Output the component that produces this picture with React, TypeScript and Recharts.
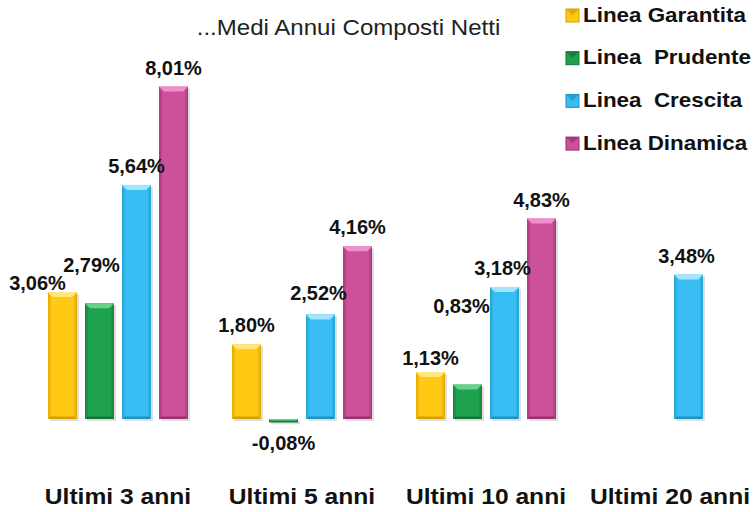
import React from 'react';
import { BarChart, Bar, XAxis, YAxis, Legend, LabelList } from 'recharts';

const categories = ['Ultimi 3 anni', 'Ultimi 5 anni', 'Ultimi 10 anni', 'Ultimi 20 anni'];
const garantita = [3.06, 1.8, 1.13, null];
const prudente = [2.79, -0.08, 0.83, null];
const crescita = [5.64, 2.52, 3.18, 3.48];
const dinamica = [8.01, 4.16, 4.83, null];
const seriesNames = ['Linea Garantita', 'Linea  Prudente', 'Linea  Crescita', 'Linea Dinamica'];
const titleText = '...Medi Annui Composti Netti';

const data = categories.map((c, i) => ({
  cat: c,
  g: garantita[i],
  p: prudente[i],
  c: crescita[i],
  d: dinamica[i],
}));

const KEYS = ['g', 'p', 'c', 'd'];
const FONT = '"Liberation Sans", Arial, sans-serif';
const STRETCH = 1.12;

const PAL: Record<string, { main: string; light: string; dark: string }> = {
  g: { main: '#FFC812', light: '#FFE680', dark: '#D49F00' },
  p: { main: '#1FA24E', light: '#67D18C', dark: '#127638' },
  c: { main: '#38BEF2', light: '#A2E5FC', dark: '#1C93C2' },
  d: { main: '#CC5199', light: '#F08FCB', dark: '#963270' },
};

// manual label nudges (style only): [dx, dy] relative to default position
const LABEL_NUDGE: Record<string, Record<number, [number, number]>> = {
  g: { 0: [-25, 10], 2: [0, 5] },
  p: { 0: [-8, -19], 2: [-6, -60] },
  c: { 1: [-2, -2], 2: [-2, 0], 3: [-2, 0] },
  d: {},
};

function BevelBar(props: any) {
  const { x, y, width, height, pal } = props;
  if (x == null || y == null || !width || !height) return null;
  const top = height < 0 ? y + height : y;
  const h = Math.abs(height);
  const w = width;
  const b = Math.min(5, h / 2);
  const s = Math.min(2.5, h / 2);
  return (
    <g>
      <rect x={x + 2} y={top + 2} width={w} height={h} fill="#000" opacity={0.13} />
      <rect x={x} y={top} width={w} height={h} fill={pal.main} />
      <polygon
        points={`${x},${top} ${x + w},${top} ${x + w - b},${top + b} ${x + b},${top + b}`}
        fill={pal.light}
      />
      <polygon
        points={`${x},${top} ${x + s},${top + b} ${x + s},${top + h - s} ${x},${top + h}`}
        fill={pal.dark}
        opacity={0.55}
      />
      <polygon
        points={`${x + w},${top} ${x + w - s},${top + b} ${x + w - s},${top + h - s} ${x + w},${top + h}`}
        fill={pal.dark}
        opacity={0.55}
      />
      <polygon
        points={`${x},${top + h} ${x + s},${top + h - s} ${x + w - s},${top + h - s} ${x + w},${top + h}`}
        fill={pal.dark}
      />
    </g>
  );
}

const fmt = (v: number) => v.toFixed(2).replace('.', ',') + '%';

function makeLabel(key: string) {
  return (props: any) => {
    const { value, index } = props;
    if (value == null) return null;
    const vb = props.viewBox || props;
    const x = vb.x ?? props.x;
    const y = vb.y ?? props.y;
    const width = vb.width ?? props.width;
    const height = vb.height ?? props.height;
    const top = height < 0 ? y + height : y;
    const bottom = height < 0 ? y : y + height;
    const nudge = (LABEL_NUDGE[key] && LABEL_NUDGE[key][index]) || [0, 0];
    const cx = x + width / 2 + nudge[0];
    const baseline = value < 0 ? bottom + 28 + nudge[1] : top - 12 + nudge[1];
    return (
      <text
        x={cx}
        y={baseline}
        textAnchor="middle"
        fontFamily={FONT}
        fontWeight="bold"
        fontSize={20}
        fill="#111"
      >
        {fmt(value)}
      </text>
    );
  };
}

function XTick(props: any) {
  const { x, y, payload } = props;
  return (
    <text
      transform={`translate(${x} ${y + 22.5}) scale(${STRETCH} 1)`}
      textAnchor="middle"
      fontFamily={FONT}
      fontWeight="bold"
      fontSize={22}
      fill="#111"
    >
      {payload.value}
    </text>
  );
}

function LegendContent() {
  return (
    <svg width={754} height={170} style={{ display: 'block' }}>
      <text
        transform={`translate(348.5 35) scale(${STRETCH} 1)`}
        textAnchor="middle"
        fontFamily={FONT}
        fontSize={21.5}
        fill="#222"
      >
        {titleText}
      </text>
      {seriesNames.map((name, i) => {
        const base = 21.5 + i * 42.7;
        const pal = PAL[KEYS[i]];
        const mx = 566;
        const my = base - 12.5;
        const m = 13;
        return (
          <g key={i}>
            <rect x={mx} y={my} width={m} height={m} fill={pal.main} />
            <polygon
              points={`${mx},${my} ${mx + m},${my} ${mx + m / 2},${my + m / 2}`}
              fill={pal.dark}
              opacity={0.7}
            />
            <rect x={mx} y={my} width={m} height={m} fill="none" stroke={pal.dark} strokeWidth={1} />
            <text
              transform={`translate(583 ${base}) scale(${STRETCH} 1)`}
              fontFamily={FONT}
              fontWeight="bold"
              fontSize={20}
              fill="#111"
              style={{ whiteSpace: 'pre' }}
            >
              {name}
            </text>
          </g>
        );
      })}
    </svg>
  );
}

export default function App() {
  return (
    <div
      style={{
        position: 'absolute',
        left: 0,
        top: 0,
        width: 754,
        height: 512,
        overflow: 'hidden',
        background: '#fff',
      }}
    >
      <BarChart
        width={780}
        height={512}
        data={data}
        margin={{ top: 45.5, right: 18, bottom: 0, left: 26 }}
        barSize={29}
        barGap={8}
      >
        <XAxis
          dataKey="cat"
          height={30.75}
          axisLine={false}
          tickLine={false}
          tickSize={0}
          tickMargin={0}
          interval={0}
          tick={<XTick />}
        />
        <YAxis hide domain={[-1.5, 9]} allowDataOverflow />
        <Legend
          layout="vertical"
          align="center"
          verticalAlign="middle"
          content={<LegendContent />}
          wrapperStyle={{ position: 'absolute', left: 0, top: 0, width: 754, height: 170 }}
        />
        {KEYS.map((k, i) => (
          <Bar
            key={k}
            dataKey={k}
            name={seriesNames[i]}
            fill={PAL[k].main}
            isAnimationActive={false}
            shape={(p: any) => <BevelBar {...p} pal={PAL[k]} />}
          >
            <LabelList dataKey={k} content={makeLabel(k)} />
          </Bar>
        ))}
      </BarChart>
    </div>
  );
}
